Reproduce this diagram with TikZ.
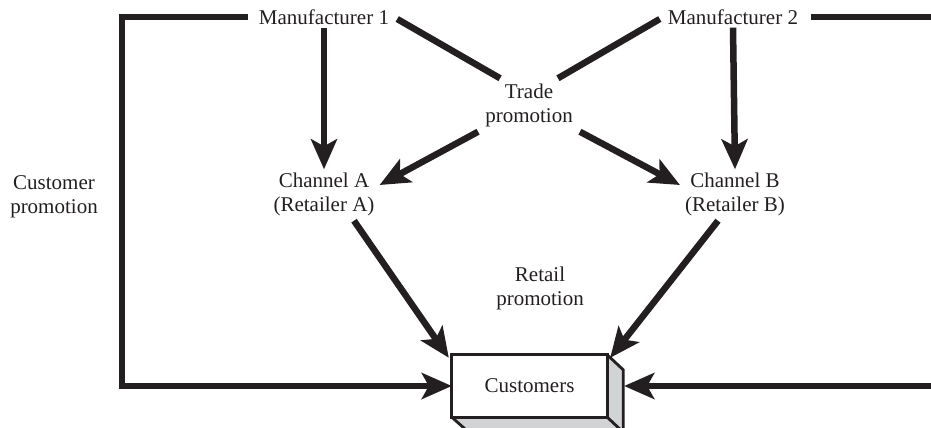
\documentclass[tikz,border=0pt]{standalone}
\usepackage{fontspec}
\setmainfont{Liberation Serif}
\usetikzlibrary{arrows.meta,calc}
\definecolor{ink}{HTML}{231F20}
\definecolor{sidegray}{HTML}{D2D3D5}
\begin{document}
\begin{tikzpicture}[x=1pt,y=-1pt,
  lbl/.style={font=\fontsize{21}{24}\selectfont, align=center, inner sep=3pt, text=ink},
  conn/.style={draw=ink, line width=6.5pt},
  arr/.style={conn, -{Stealth[length=30pt,width=26pt,inset=7pt]}},
  boxface/.style={draw=ink, line width=2.8pt, line join=miter}]
\useasboundingbox (0,0) rectangle (931,428);
\clip (0,0) rectangle (931,428);

\node[lbl] (m1) at (324,17) {Manufacturer 1};
\node[lbl] (m2) at (733,17) {Manufacturer 2};
\node[lbl] (trade) at (529,105) {Trade\\promotion};
\node[lbl] (chA) at (324,194) {Channel A\\(Retailer A)};
\node[lbl] (chB) at (735,194) {Channel B\\(Retailer B)};
\node[lbl] (cp) at (54,197) {Customer\\promotion};
\node[lbl] (rp) at (540,288) {Retail\\promotion};

% Customers box with depth
\node[lbl, minimum width=155pt, minimum height=62pt, inner sep=0pt] (cust) at (529.5,386) {};
\fill[sidegray] (cust.north east) -- ++(16,15) -- ++(0,62) -- ($(cust.south west)+(16,15)$) -- (cust.south west) -- cycle;
\draw[boxface] (cust.north east) -- ++(16,15) -- ++(0,62) -- ++(-155,0) -- (cust.south west);
\draw[boxface] (cust.south east) -- ++(16,15);
\draw[boxface, fill=white] (cust.north west) rectangle (cust.south east);
\node[lbl] at (cust.center) {Customers};

% coordinates for bends
\coordinate (lb) at (122,386);
\coordinate (rb) at (945,386);
\coordinate (custside) at ($(cust.east)+(17,0)$);

% customer promotion loops
\draw[arr] ([xshift=-8pt]m1.west) -| (lb) -- (cust.west);
\draw[arr] ([xshift=10pt]m2.east) -| (rb) -- (custside);

% manufacturers to channels
\draw[arr] (m1.south) -- (chA.north);
\draw[arr] (m2.south) -- (chB.north);

% manufacturers to trade promotion
\draw[conn] ([xshift=5pt,yshift=-2pt]m1.east) -- ([xshift=18pt,yshift=2pt]trade.north west);
\draw[conn] ([xshift=-5pt,yshift=-2pt]m2.west) -- ([xshift=-18pt,yshift=2pt]trade.north east);

% trade promotion to channels
\draw[arr] ([xshift=-4pt,yshift=-2pt]trade.south west) -- ($(chA.east)+(2,-9)$);
\draw[arr] ([xshift=4pt,yshift=-2pt]trade.south east) -- ($(chB.west)+(-2,-9)$);

% channels to customers
\draw[arr] ($(chA.south)+(30,2)$) -- ([xshift=-3pt,yshift=-3pt]cust.north west);
\draw[arr] ($(chB.south)+(-17,2)$) -- ([xshift=3pt,yshift=-3pt]cust.north east);
\end{tikzpicture}
\end{document}
